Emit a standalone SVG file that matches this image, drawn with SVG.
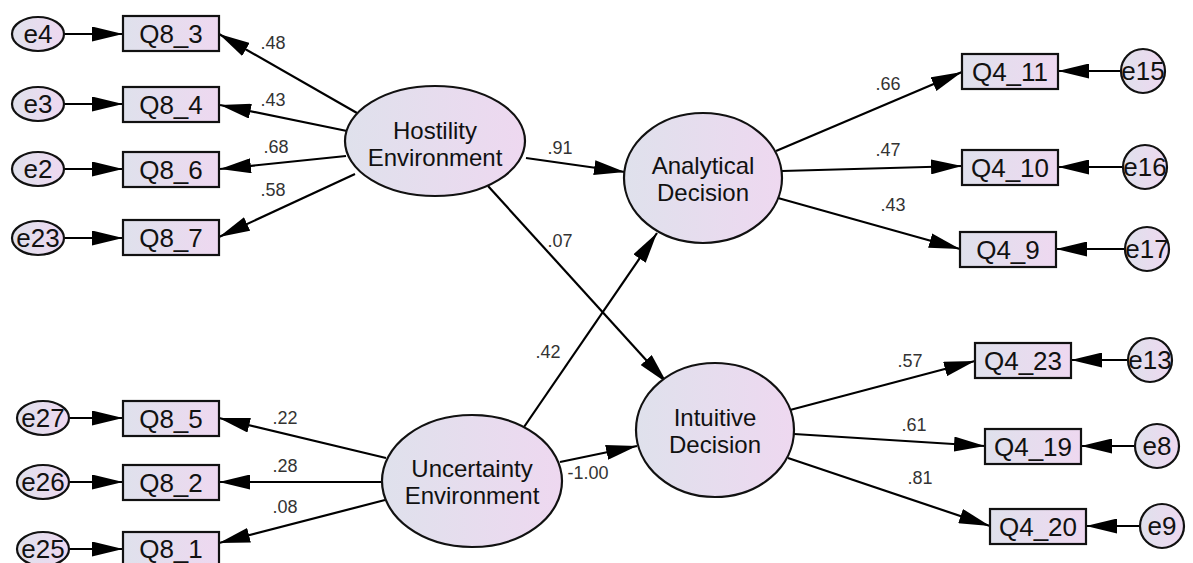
<svg xmlns="http://www.w3.org/2000/svg" width="1193" height="563" viewBox="0 0 1193 563">
  <defs>
    <linearGradient id="fillGrad" x1="0" y1="0" x2="1" y2="0">
      <stop offset="0" stop-color="#dfe1ec"/>
      <stop offset="1" stop-color="#eed8f0"/>
    </linearGradient>
    <marker id="arrow" markerUnits="userSpaceOnUse" markerWidth="31" markerHeight="15" refX="31" refY="7.5" orient="auto">
      <path d="M0,0 L31,7.5 L0,15 Z" fill="#000"/>
    </marker>
    <style>
      .node { fill: url(#fillGrad); stroke: #111; stroke-width: 2.2; }
      .conn { stroke: #000; stroke-width: 2.2; fill: none; marker-end: url(#arrow); }
      .lbl { font-family: "Liberation Sans", Arial, sans-serif; font-size: 26px; fill: #111; text-anchor: middle; }
      .lat { font-family: "Liberation Sans", Arial, sans-serif; font-size: 24px; fill: #111; text-anchor: middle; }
      .w { font-family: "Liberation Sans", Arial, sans-serif; font-size: 18px; fill: #333; text-anchor: middle; }
    </style>
  </defs>

  <!-- connectors -->
  <g id="connectors">
    <!-- error terms into indicators -->
    <line class="conn" x1="64" y1="34" x2="123" y2="34"/>
    <line class="conn" x1="64" y1="104" x2="123" y2="104"/>
    <line class="conn" x1="64" y1="169" x2="123" y2="169"/>
    <line class="conn" x1="64" y1="238" x2="123" y2="238"/>
    <line class="conn" x1="69" y1="418" x2="123" y2="418"/>
    <line class="conn" x1="69" y1="482" x2="123" y2="482"/>
    <line class="conn" x1="69" y1="549" x2="123" y2="549"/>
    <line class="conn" x1="1121" y1="71" x2="1058" y2="71"/>
    <line class="conn" x1="1123" y1="167" x2="1058" y2="167"/>
    <line class="conn" x1="1125" y1="249" x2="1056" y2="249"/>
    <line class="conn" x1="1128" y1="360" x2="1071" y2="360"/>
    <line class="conn" x1="1135" y1="446" x2="1081" y2="446"/>
    <line class="conn" x1="1140" y1="526" x2="1086" y2="526"/>
    <!-- loadings -->
    <line class="conn" x1="357" y1="113" x2="219" y2="34"/>
    <line class="conn" x1="347" y1="131" x2="220" y2="105"/>
    <line class="conn" x1="346" y1="156" x2="220" y2="169"/>
    <line class="conn" x1="355" y1="174" x2="219" y2="237"/>
    <line class="conn" x1="386" y1="458" x2="219" y2="418"/>
    <line class="conn" x1="382" y1="482" x2="219" y2="482"/>
    <line class="conn" x1="385" y1="500" x2="219" y2="543"/>
    <line class="conn" x1="776" y1="151" x2="962" y2="72"/>
    <line class="conn" x1="782" y1="171" x2="962" y2="166"/>
    <line class="conn" x1="778" y1="198" x2="960" y2="249"/>
    <line class="conn" x1="790" y1="410" x2="975" y2="361"/>
    <line class="conn" x1="794" y1="434" x2="985" y2="446"/>
    <line class="conn" x1="788" y1="458" x2="990" y2="526"/>
    <!-- structural paths -->
    <line class="conn" x1="526" y1="158" x2="625" y2="172"/>
    <line class="conn" x1="488" y1="186" x2="667" y2="383"/>
    <line class="conn" x1="524" y1="427" x2="657" y2="233"/>
    <line class="conn" x1="560" y1="462" x2="637" y2="446"/>
  </g>

  <!-- path coefficients -->
  <g id="weights">
    <text class="w" x="273" y="49">.48</text>
    <text class="w" x="273" y="106">.43</text>
    <text class="w" x="276" y="153">.68</text>
    <text class="w" x="273" y="196">.58</text>
    <text class="w" x="560" y="154">.91</text>
    <text class="w" x="560" y="247">.07</text>
    <text class="w" x="548" y="358">.42</text>
    <text class="w" x="588" y="479">-1.00</text>
    <text class="w" x="285" y="424">.22</text>
    <text class="w" x="285" y="472">.28</text>
    <text class="w" x="285" y="513">.08</text>
    <text class="w" x="888" y="90">.66</text>
    <text class="w" x="888" y="156">.47</text>
    <text class="w" x="893" y="211">.43</text>
    <text class="w" x="910" y="367">.57</text>
    <text class="w" x="914" y="431">.61</text>
    <text class="w" x="920" y="484">.81</text>
  </g>

  <!-- latent variables -->
  <g id="hostility">
    <ellipse class="node" cx="435" cy="141" rx="90" ry="55"/>
    <text class="lat" x="435" y="139">Hostility</text>
    <text class="lat" x="435" y="166">Environment</text>
  </g>
  <g id="uncertainty">
    <ellipse class="node" cx="472" cy="481" rx="90" ry="66"/>
    <text class="lat" x="472" y="477">Uncertainty</text>
    <text class="lat" x="472" y="504">Environment</text>
  </g>
  <g id="analytical">
    <ellipse class="node" cx="703" cy="178" rx="79" ry="65"/>
    <text class="lat" x="703" y="174">Analytical</text>
    <text class="lat" x="703" y="201">Decision</text>
  </g>
  <g id="intuitive">
    <ellipse class="node" cx="715" cy="430" rx="79" ry="67"/>
    <text class="lat" x="715" y="426">Intuitive</text>
    <text class="lat" x="715" y="453">Decision</text>
  </g>

  <!-- observed indicators -->
  <g id="Q8_3"><rect class="node" x="123" y="16" width="96" height="35"/><text class="lbl" x="171" y="43">Q8_3</text></g>
  <g id="Q8_4"><rect class="node" x="123" y="87" width="96" height="35"/><text class="lbl" x="171" y="114">Q8_4</text></g>
  <g id="Q8_6"><rect class="node" x="123" y="152" width="96" height="35"/><text class="lbl" x="171" y="179">Q8_6</text></g>
  <g id="Q8_7"><rect class="node" x="123" y="220" width="96" height="35"/><text class="lbl" x="171" y="247">Q8_7</text></g>
  <g id="Q8_5"><rect class="node" x="123" y="401" width="96" height="35"/><text class="lbl" x="171" y="428">Q8_5</text></g>
  <g id="Q8_2"><rect class="node" x="123" y="465" width="96" height="35"/><text class="lbl" x="171" y="492">Q8_2</text></g>
  <g id="Q8_1"><rect class="node" x="123" y="532" width="96" height="35"/><text class="lbl" x="171" y="558">Q8_1</text></g>
  <g id="Q4_11"><rect class="node" x="962" y="54" width="96" height="35"/><text class="lbl" x="1010" y="81">Q4_11</text></g>
  <g id="Q4_10"><rect class="node" x="962" y="150" width="96" height="35"/><text class="lbl" x="1010" y="177">Q4_10</text></g>
  <g id="Q4_9"><rect class="node" x="960" y="232" width="96" height="35"/><text class="lbl" x="1008" y="259">Q4_9</text></g>
  <g id="Q4_23"><rect class="node" x="975" y="343" width="96" height="35"/><text class="lbl" x="1023" y="370">Q4_23</text></g>
  <g id="Q4_19"><rect class="node" x="985" y="429" width="96" height="35"/><text class="lbl" x="1033" y="456">Q4_19</text></g>
  <g id="Q4_20"><rect class="node" x="990" y="509" width="96" height="35"/><text class="lbl" x="1038" y="536">Q4_20</text></g>

  <!-- error terms -->
  <g id="e4"><ellipse class="node" cx="38" cy="34" rx="26" ry="17"/><text class="lbl" x="38" y="43">e4</text></g>
  <g id="e3"><ellipse class="node" cx="38" cy="104" rx="26" ry="17"/><text class="lbl" x="38" y="113">e3</text></g>
  <g id="e2"><ellipse class="node" cx="38" cy="169" rx="26" ry="17"/><text class="lbl" x="38" y="178">e2</text></g>
  <g id="e23"><ellipse class="node" cx="38" cy="238" rx="26" ry="17"/><text class="lbl" x="38" y="247">e23</text></g>
  <g id="e27"><ellipse class="node" cx="43" cy="418" rx="26" ry="17"/><text class="lbl" x="43" y="427">e27</text></g>
  <g id="e26"><ellipse class="node" cx="43" cy="482" rx="26" ry="17"/><text class="lbl" x="43" y="491">e26</text></g>
  <g id="e25"><ellipse class="node" cx="43" cy="549" rx="26" ry="17"/><text class="lbl" x="43" y="558">e25</text></g>
  <g id="e15"><circle class="node" cx="1143" cy="71" r="22"/><text class="lbl" x="1143" y="80">e15</text></g>
  <g id="e16"><circle class="node" cx="1145" cy="167" r="22"/><text class="lbl" x="1145" y="176">e16</text></g>
  <g id="e17"><circle class="node" cx="1147" cy="249" r="22"/><text class="lbl" x="1147" y="258">e17</text></g>
  <g id="e13"><circle class="node" cx="1150" cy="360" r="22"/><text class="lbl" x="1150" y="369">e13</text></g>
  <g id="e8"><circle class="node" cx="1157" cy="446" r="22"/><text class="lbl" x="1157" y="455">e8</text></g>
  <g id="e9"><circle class="node" cx="1162" cy="526" r="22"/><text class="lbl" x="1162" y="535">e9</text></g>
</svg>
